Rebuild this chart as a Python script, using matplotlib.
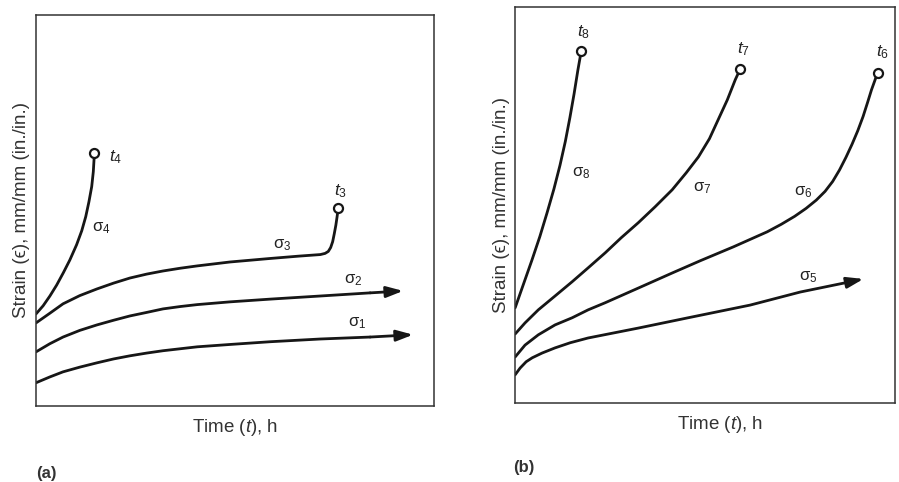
import matplotlib
matplotlib.use("Agg")
import matplotlib.pyplot as plt

plt.rcParams['font.family'] = ['Liberation Sans', 'DejaVu Sans']
plt.rcParams['mathtext.fontset'] = 'custom'
plt.rcParams['mathtext.rm'] = 'Liberation Sans'
plt.rcParams['mathtext.it'] = 'Liberation Sans:italic'

# panel (a): time / strain in arbitrary units (0-100)
s4_t = [0, 1.8, 3.5, 5.2, 6.9, 8.5, 10.2, 11.5, 12.5, 13.3, 14.0, 14.4, 14.6, 14.6]
s4_e = [23.5, 25.6, 28.1, 30.9, 34.1, 37.3, 41.2, 44.8, 48.4, 52.2, 56.1, 59.9, 63.3, 64.7]
s3_t = [0, 3.5, 6.8, 11, 15.3, 19.5, 23.6, 27.8, 31.9, 36.2, 40.5, 48.7, 58.8, 66, 71.4,
        72.6, 73.4, 74.0, 74.5, 74.9, 75.3, 75.6, 75.9]
s3_e = [21.2, 23.7, 26.1, 28.2, 29.9, 31.4, 32.7, 33.7, 34.5, 35.2, 35.8, 36.8, 37.7, 38.3, 38.7,
        39.0, 39.5, 40.5, 42.0, 44.0, 46.2, 48.3, 50.6]
s2_t = [0, 3.5, 6.8, 11, 15.3, 19.5, 23.6, 27.8, 31.9, 36.2, 40.5, 48.7, 58.8, 71.4, 83.9, 92.2]
s2_e = [13.8, 15.9, 17.6, 19.3, 20.7, 21.9, 23.0, 23.9, 24.8, 25.4, 25.9, 26.6, 27.3, 28.1, 28.9, 29.4]
s1_t = [0, 3.5, 6.8, 11, 15.3, 19.5, 23.6, 27.8, 31.9, 36.2, 40.5, 48.7, 58.8, 71.4, 83.9, 94.7]
s1_e = [5.9, 7.4, 8.7, 9.9, 11.0, 12.0, 12.8, 13.5, 14.1, 14.6, 15.1, 15.7, 16.4, 17.1, 17.6, 18.2]

# panel (b)
s8_t = [0, 2.2, 4.4, 6.5, 8.4, 10.2, 11.8, 13.2, 14.4, 15.5, 16.5, 17.4]
s8_e = [24.0, 30.0, 36.0, 42.0, 48.0, 54.0, 60.0, 66.0, 72.0, 78.0, 84.0, 88.9]
s7_t = [0, 2.6, 6.1, 10.5, 15.0, 19.2, 23.7, 27.9, 32.4, 36.8, 41.3, 45.0, 48.2, 51.1,
        53.4, 55.8, 57.9, 59.2]
s7_e = [17.4, 20.2, 23.5, 27.0, 30.6, 34.1, 37.9, 41.7, 45.5, 49.5, 53.8, 58.1, 62.1, 66.7,
        71.5, 76.5, 81.6, 84.3]
s6_t = [0, 2.6, 6.1, 10.5, 15.0, 19.2, 23.7, 32.4, 41.3, 48.7, 57.4, 66.3, 70.0, 73.5,
        76.5, 79.2, 81.5, 83.5, 85.3, 87.0, 88.6, 90.1, 91.5, 92.7, 93.7, 94.6, 95.3]
s6_e = [11.6, 14.6, 17.2, 19.7, 21.5, 23.5, 25.3, 29.0, 32.8, 35.9, 39.4, 43.2, 45.1, 47.1,
        49.1, 51.2, 53.4, 55.9, 58.8, 62.0, 65.3, 68.7, 72.3, 75.9, 79.0, 81.4, 83.3]
s5_t = [0, 1.3, 2.9, 4.5, 7.1, 10.5, 14.5, 19.2, 32.4, 45.5, 61.8, 75.0, 88.2, 91.6]
s5_e = [7.1, 8.8, 10.4, 11.4, 12.6, 13.9, 15.2, 16.4, 18.9, 21.5, 24.7, 28.0, 30.6, 31.3]

lw = 2.0
ink = '#161616'

fig = plt.figure(figsize=(8.99, 4.82), dpi=100)
ax1 = fig.add_axes([0.040, 0.158, 0.443, 0.811])
ax2 = fig.add_axes([0.573, 0.164, 0.423, 0.822])

for ax in (ax1, ax2):
    ax.set_xlim(0, 100)
    ax.set_ylim(0, 100)
    ax.set_xticks([])
    ax.set_yticks([])
    for sp in ax.spines.values():
        sp.set_linewidth(1.1)
        sp.set_color('#333333')


def ruptured(ax, t, e):
    ax.plot(t, e, color=ink, lw=lw, solid_capstyle='round', solid_joinstyle='round')
    ax.plot(t[-1], e[-1], 'o', ms=6.5, mfc='white', mec=ink, mew=1.6)


def continuing(ax, t, e):
    ax.plot(t[:-1], e[:-1], color=ink, lw=lw, solid_capstyle='round', solid_joinstyle='round')
    ax.annotate('', xy=(t[-1], e[-1]), xytext=(t[-2], e[-2]),
                arrowprops=dict(arrowstyle='-|>,head_length=1.0,head_width=0.33',
                                color=ink, lw=lw, shrinkA=0, shrinkB=0))


ruptured(ax1, s4_t, s4_e)
ruptured(ax1, s3_t, s3_e)
continuing(ax1, s2_t, s2_e)
continuing(ax1, s1_t, s1_e)

ruptured(ax2, s8_t, s8_e)
ruptured(ax2, s7_t, s7_e)
ruptured(ax2, s6_t, s6_e)
continuing(ax2, s5_t, s5_e)

tk = dict(fontsize=12.5, color='#222222', ha='center', va='center')
sk = dict(fontsize=12, color='#222222', ha='center', va='center')

ax1.text(20.0, 63.7, r'$t_4$', **tk)
ax1.text(16.3, 45.5, r'$\mathrm{\sigma_4}$', **sk)
ax1.text(76.4, 55.0, r'$t_3$', **tk)
ax1.text(61.8, 41.2, r'$\mathrm{\sigma_3}$', **sk)
ax1.text(79.6, 32.2, r'$\mathrm{\sigma_2}$', **sk)
ax1.text(80.7, 21.2, r'$\mathrm{\sigma_1}$', **sk)

ax2.text(17.9, 93.6, r'$t_8$', **tk)
ax2.text(17.3, 58.1, r'$\mathrm{\sigma_8}$', **sk)
ax2.text(60.0, 89.3, r'$t_7$', **tk)
ax2.text(49.2, 54.3, r'$\mathrm{\sigma_7}$', **sk)
ax2.text(96.6, 88.6, r'$t_6$', **tk)
ax2.text(75.8, 53.3, r'$\mathrm{\sigma_6}$', **sk)
ax2.text(77.1, 31.8, r'$\mathrm{\sigma_5}$', **sk)

xl = 'Time ($t$), h'
yl = 'Strain (ϵ), mm/mm (in./in.)'
for ax in (ax1, ax2):
    ax.set_xlabel(xl, fontsize=13.5, color='#333333', labelpad=8)
    ax.set_ylabel(yl, fontsize=13.5, color='#333333', labelpad=4)
ax2.xaxis.set_label_coords(0.54, -0.028, transform=ax2.transAxes)
ax2.xaxis.label.set_va('top')

fig.text(0.040, 0.008, '(a)', fontsize=12, fontweight='bold', color='#333333')
fig.text(0.571, 0.021, '(b)', fontsize=12, fontweight='bold', color='#333333')

fig.savefig('out.png', dpi=100)
